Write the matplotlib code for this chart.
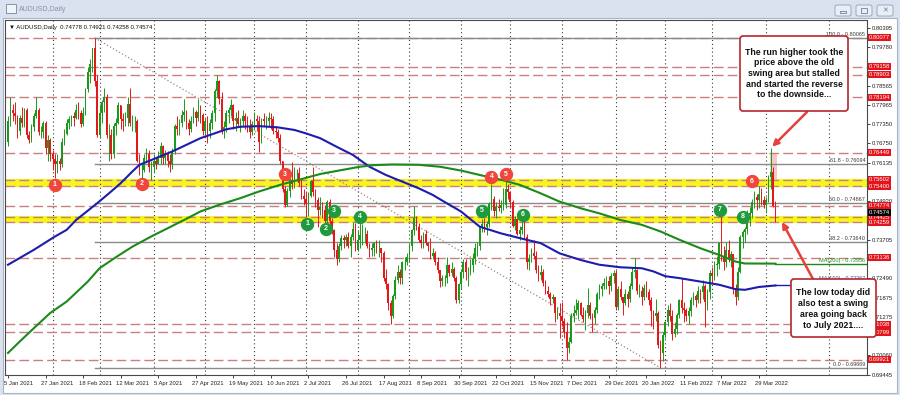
import matplotlib
matplotlib.use('Agg')

import matplotlib.pyplot as plt
from matplotlib.patches import Rectangle, FancyBboxPatch
from matplotlib.transforms import blended_transform_factory, ScaledTranslation
import pandas as pd

plt.rcParams['font.family'] = ['Liberation Sans', 'DejaVu Sans']

# ---------------- data ----------------
# daily bars, prices in pips (7745 -> 0.7745); open = previous close
dates = pd.bdate_range('2021-01-05', '2022-04-07')
first_open = 7680

closes = [
    7745, 7780, 7770, 7760, 7715, 7755, 7740, 7780, 7700, 7685, 7725, 7760, 7780, 7710, 7710, 7740, 7660, 7685, 7640,  # Jan 21
    7625, 7610, 7620, 7610, 7680, 7705, 7740, 7750, 7760, 7755, 7780, 7770, 7735, 7770, 7845, 7900, 7925, 7975, 7870, 7700,  # Feb
    7770, 7805, 7820, 7700, 7700, 7640, 7730, 7740, 7795, 7750, 7745, 7755, 7800, 7740, 7745, 7745, 7620, 7590, 7590, 7630, 7640, 7600, 7600,  # Mar
    7620, 7610, 7630, 7665, 7630, 7640, 7620, 7610, 7650, 7730, 7720, 7740, 7765, 7775, 7740, 7720, 7745, 7775, 7755, 7775, 7765, 7715,  # Apr
    7745, 7715, 7740, 7770, 7840, 7870, 7815, 7715, 7725, 7770, 7780, 7795, 7745, 7755, 7735, 7745, 7760, 7745, 7730, 7710, 7735,  # May
    7750, 7745, 7680, 7750, 7745, 7745, 7755, 7750, 7715, 7710, 7690, 7620, 7530, 7480, 7525, 7560, 7545, 7580, 7580, 7550, 7510, 7500,  # Jun
    7485, 7510, 7555, 7520, 7495, 7465, 7475, 7465, 7430, 7490, 7430, 7400, 7340, 7310, 7350, 7375, 7370, 7380, 7350, 7380, 7405, 7340,  # Jul
    7370, 7385, 7390, 7390, 7350, 7340, 7345, 7360, 7345, 7345, 7330, 7250, 7230, 7170, 7130, 7195, 7245, 7270, 7250, 7300, 7300, 7315,  # Aug
    7350, 7400, 7440, 7410, 7370, 7360, 7390, 7360, 7350, 7320, 7330, 7300, 7275, 7240, 7250, 7250, 7290, 7265, 7280, 7250, 7180, 7230,  # Sep
    7270, 7300, 7270, 7270, 7290, 7310, 7345, 7350, 7410, 7420, 7410, 7420, 7485, 7500, 7460, 7475, 7470, 7480, 7480, 7530, 7520,  # Oct
    7490, 7415, 7435, 7390, 7400, 7410, 7380, 7300, 7310, 7330, 7320, 7275, 7260, 7270, 7235, 7210, 7200, 7185, 7190, 7140, 7140, 7130,  # Nov
    7115, 7080, 7030, 7050, 7130, 7140, 7150, 7170, 7135, 7120, 7140, 7165, 7130, 7125, 7150, 7200, 7215, 7225, 7235, 7240, 7225, 7255, 7265,  # Dec
    7160, 7215, 7190, 7170, 7200, 7185, 7225, 7270, 7275, 7210, 7210, 7190, 7220, 7205, 7180, 7145, 7130, 7140, 7040, 7015, 7070,  # Jan 22
    7110, 7150, 7130, 7075, 7090, 7135, 7180, 7155, 7150, 7130, 7145, 7180, 7195, 7180, 7210, 7205, 7225, 7175, 7205, 7265,  # Feb
    7255, 7290, 7295, 7360, 7315, 7300, 7340, 7310, 7325, 7220, 7190, 7270, 7380, 7395, 7405, 7450, 7455, 7490, 7505, 7495, 7515, 7495, 7480,  # Mar
    7495, 7570, 7585, 7478, 7457.4,  # Apr
]
highs = [
    7760, 7820, 7800, 7805, 7765, 7765, 7790, 7785, 7785, 7715, 7735, 7770, 7820, 7785, 7730, 7745, 7745, 7700, 7690,
    7655, 7640, 7640, 7630, 7690, 7720, 7750, 7760, 7765, 7775, 7800, 7805, 7780, 7790, 7850, 7915, 7940, 7975, 8007, 7890,
    7800, 7810, 7850, 7830, 7735, 7720, 7740, 7755, 7805, 7790, 7770, 7775, 7820, 7850, 7765, 7760, 7750, 7640, 7610, 7640, 7660, 7655, 7620,
    7640, 7630, 7650, 7680, 7670, 7655, 7650, 7640, 7660, 7735, 7760, 7750, 7780, 7815, 7780, 7750, 7760, 7790, 7780, 7815, 7795, 7770,
    7755, 7760, 7750, 7780, 7845, 7891, 7875, 7835, 7745, 7780, 7790, 7815, 7800, 7775, 7780, 7755, 7780, 7770, 7760, 7750, 7745,
    7775, 7765, 7760, 7755, 7770, 7760, 7775, 7770, 7760, 7730, 7720, 7705, 7620, 7540, 7535, 7575, 7615, 7600, 7595, 7600, 7565, 7530,
    7520, 7520, 7560, 7599, 7530, 7505, 7505, 7490, 7480, 7495, 7500, 7440, 7405, 7360, 7360, 7385, 7385, 7390, 7395, 7390, 7427, 7425,
    7400, 7425, 7420, 7410, 7400, 7360, 7360, 7365, 7370, 7370, 7345, 7335, 7280, 7235, 7180, 7200, 7255, 7290, 7280, 7305, 7315, 7330,
    7360, 7405, 7478, 7445, 7425, 7385, 7395, 7400, 7365, 7375, 7345, 7335, 7315, 7275, 7260, 7260, 7315, 7295, 7300, 7285, 7255, 7235,
    7275, 7310, 7310, 7285, 7310, 7330, 7360, 7365, 7415, 7435, 7440, 7430, 7490, 7545, 7510, 7490, 7500, 7495, 7535, 7556, 7545,
    7525, 7495, 7445, 7440, 7415, 7435, 7435, 7390, 7325, 7345, 7370, 7335, 7290, 7290, 7280, 7245, 7225, 7205, 7200, 7190, 7160, 7170,
    7175, 7125, 7110, 7065, 7140, 7165, 7185, 7180, 7175, 7160, 7150, 7220, 7175, 7140, 7160, 7205, 7230, 7235, 7250, 7255, 7255, 7265, 7277,
    7275, 7225, 7240, 7190, 7215, 7210, 7235, 7285, 7314, 7280, 7230, 7225, 7230, 7240, 7215, 7190, 7150, 7185, 7145, 7055, 7080,
    7115, 7165, 7170, 7150, 7110, 7140, 7185, 7250, 7175, 7155, 7160, 7190, 7205, 7200, 7225, 7215, 7245, 7230, 7215, 7275,
    7285, 7305, 7320, 7365, 7441, 7350, 7365, 7370, 7335, 7325, 7230, 7285, 7385, 7400, 7410, 7465, 7475, 7500, 7525, 7515, 7540, 7535, 7510,
    7505, 7575, 7661, 7600, 7492.1,
]
lows = [
    7665, 7730, 7745, 7735, 7690, 7700, 7725, 7725, 7690, 7675, 7680, 7715, 7755, 7700, 7690, 7690, 7640, 7620, 7620,
    7590, 7564, 7580, 7590, 7600, 7670, 7700, 7720, 7730, 7730, 7750, 7750, 7725, 7730, 7765, 7835, 7865, 7900, 7855, 7695,
    7690, 7740, 7775, 7690, 7620, 7625, 7630, 7700, 7735, 7720, 7715, 7730, 7730, 7730, 7715, 7710, 7615, 7575, 7532, 7585, 7615, 7585, 7560,
    7585, 7595, 7610, 7610, 7610, 7610, 7600, 7585, 7595, 7640, 7700, 7700, 7725, 7745, 7720, 7700, 7710, 7740, 7730, 7745, 7740, 7700,
    7700, 7675, 7690, 7720, 7745, 7820, 7800, 7705, 7690, 7710, 7740, 7760, 7720, 7715, 7725, 7710, 7730, 7720, 7710, 7690, 7700,
    7720, 7715, 7647, 7675, 7730, 7720, 7730, 7720, 7705, 7690, 7680, 7610, 7520, 7475, 7478, 7505, 7530, 7535, 7555, 7540, 7500, 7480,
    7444, 7445, 7505, 7510, 7475, 7410, 7450, 7440, 7420, 7410, 7420, 7390, 7315, 7290, 7300, 7340, 7345, 7350, 7345, 7315, 7370, 7335,
    7335, 7345, 7355, 7360, 7345, 7315, 7320, 7320, 7330, 7315, 7300, 7240, 7215, 7150, 7106, 7125, 7185, 7235, 7230, 7230, 7275, 7290,
    7300, 7335, 7385, 7400, 7365, 7345, 7345, 7355, 7335, 7310, 7310, 7290, 7265, 7222, 7225, 7225, 7235, 7255, 7255, 7240, 7170, 7170,
    7215, 7250, 7245, 7225, 7260, 7270, 7295, 7320, 7340, 7395, 7395, 7385, 7410, 7465, 7445, 7440, 7460, 7455, 7465, 7470, 7500,
    7470, 7410, 7400, 7385, 7370, 7390, 7375, 7280, 7275, 7300, 7310, 7265, 7240, 7245, 7225, 7200, 7190, 7165, 7170, 7110, 7120, 7060,
    7100, 7060, 6993, 7015, 7045, 7110, 7135, 7120, 7130, 7110, 7085, 7125, 7120, 7080, 7105, 7140, 7185, 7195, 7215, 7215, 7200, 7210, 7235,
    7150, 7150, 7180, 7135, 7165, 7160, 7175, 7215, 7250, 7200, 7190, 7165, 7180, 7190, 7165, 7100, 7090, 7115, 7030, 6967, 6990,
    7060, 7100, 7115, 7055, 7065, 7075, 7125, 7140, 7110, 7115, 7105, 7130, 7165, 7160, 7170, 7170, 7185, 7095, 7150, 7185,
    7235, 7245, 7255, 7280, 7305, 7275, 7285, 7300, 7285, 7200, 7165, 7180, 7265, 7345, 7365, 7390, 7415, 7440, 7470, 7465, 7470, 7480, 7470,
    7455, 7490, 7530, 7475, 7425.8,
]

# moving averages (bar index, price)
ma100_bars = [0, 11, 20, 25, 29, 38, 43, 48, 53, 56, 63, 70, 76, 82, 88, 93, 99, 107, 115, 122, 127, 133, 140,
              147, 154, 161, 168, 175, 181, 186, 193, 201, 210, 218, 227, 235, 244, 252, 261, 270, 275, 280,
              286, 295, 303, 310, 314, 320, 327]
ma100_vals = [0.7292, 0.7339, 0.7381, 0.7402, 0.7433, 0.7486, 0.7517, 0.7549, 0.7586, 0.7607, 0.7628, 0.7649,
              0.7670, 0.7691, 0.7706, 0.7719, 0.7727, 0.7729, 0.7725, 0.7717, 0.7706, 0.7691, 0.7664, 0.7638,
              0.7601, 0.7575, 0.7554, 0.7533, 0.7512, 0.7490, 0.7460, 0.7412, 0.7391, 0.7376, 0.7360, 0.7328,
              0.7307, 0.7292, 0.7284, 0.7281, 0.7271, 0.7256, 0.7250, 0.7239, 0.7229, 0.7215, 0.7213, 0.7222, 0.72267]
ma200_bars = [0, 5, 11, 18, 25, 34, 39, 46, 53, 61, 68, 75, 82, 90, 99, 107, 116, 124, 133, 141, 150, 156, 164,
              175, 184, 193, 201, 210, 218, 227, 235, 244, 252, 261, 270, 278, 286, 295, 303, 310, 314, 327]
ma200_vals = [0.7014, 0.7050, 0.7092, 0.7140, 0.7176, 0.7239, 0.7281, 0.7316, 0.7349, 0.7381, 0.7407, 0.7433,
              0.7460, 0.7481, 0.7502, 0.7523, 0.7544, 0.7560, 0.7578, 0.7589, 0.7601, 0.7606, 0.7608, 0.7607,
              0.7601, 0.7589, 0.7575, 0.7560, 0.7544, 0.7517, 0.7491, 0.7470, 0.7454, 0.7433, 0.7418, 0.7397,
              0.7371, 0.7344, 0.7323, 0.7302, 0.7296, 0.72956]

red_levels = [0.80077, 0.79158, 0.78903, 0.78194, 0.76449, 0.75602, 0.75400, 0.74774,
              0.74425, 0.74259, 0.73136, 0.71038, 0.70799, 0.69921]
yellow_zones = [(0.7537, 0.7563), (0.7423, 0.7445)]
fib_start_bar = 37
fib_levels = [('100.0', 0.80065), ('61.8', 0.76094), ('50.0', 0.74867), ('38.2', 0.73640), ('0.0', 0.69669)]
trend_bars = [37, 278]
trend_prices = [0.80070, 0.69670]
# scale labels that are not hidden behind the coloured price boxes
price_ticks = [0.80395, 0.79780, 0.78565, 0.77965, 0.77350, 0.76750, 0.76135, 0.74920,
               0.73705, 0.72490, 0.71875, 0.71275, 0.70060, 0.69445]
last_price = 0.74574

red_marks = [('1', 20, 0.7544), ('2', 57, 0.7547), ('3', 118, 0.7578), ('4', 206, 0.7569),
             ('5', 212, 0.7578), ('6', 317, 0.7556)]
green_marks = [('1', 127.4, 0.7421), ('2', 135.5, 0.7405), ('3', 139, 0.7462), ('4', 150, 0.7443),
               ('5', 202, 0.7462), ('6', 219.4, 0.7449), ('7', 303.4, 0.7465), ('8', 313, 0.7443)]

note_top = "The run higher took the\nprice above the old\nswing area but stalled\nand started the reverse\nto the downside..."
note_low = "The low today did\nalso test a swing\narea going back\nto July 2021...."

# ---------------- figure ----------------
W, H = 900, 395
fig = plt.figure(figsize=(W / 100, H / 100), dpi=100)
fig.patch.set_facecolor('#d9e2ee')

bg = fig.add_axes([0, 0, 1, 1], zorder=0)
bg.set_xlim(0, W); bg.set_ylim(H, 0); bg.axis('off')
bg.add_patch(Rectangle((3, 18), 894, 375, fc='white', ec='#a8b5c5', lw=0.8))
bg.add_patch(Rectangle((6, 4), 10, 9, fc='#f1f5fa', ec='#7f95af', lw=0.7))
bg.text(19, 9.5, 'AUDUSD,Daily', fontsize=5, color='#8795a8', va='center')
for x0 in (835, 856, 877):
    bg.add_patch(FancyBboxPatch((x0, 5), 16, 11, boxstyle='round,pad=0,rounding_size=2',
                                fc='#e8eef6', ec='#9ca9b9', lw=0.7))
bg.add_patch(Rectangle((840, 11), 6, 2, fc='none', ec='#6f7f94', lw=0.6))
bg.add_patch(Rectangle((861, 8), 6, 5, fc='none', ec='#6f7f94', lw=0.6))
bg.text(885, 10.5, '\u2715', fontsize=5, color='#6f7f94', ha='center', va='center', family='DejaVu Sans')

ax = fig.add_axes([5 / W, 1 - 375 / H, 862 / W, 355 / H], zorder=1)
ax.set_facecolor('white')
ax.set_xlim(-1.28, 366.0)
ax.set_ylim(0.69445, 0.80635)

n = len(dates)
c = [v / 10000 for v in closes]
o = [first_open / 10000] + c[:-1]
h = [max(v / 10000, oo, cc) for v, oo, cc in zip(highs, o, c)]
l = [min(v / 10000, oo, cc) for v, oo, cc in zip(lows, o, c)]
x = list(range(n))

# background objects
for lo, hi in yellow_zones:
    ax.axhspan(lo, hi, color='#f6f61c', lw=0, zorder=1)
ax.add_patch(Rectangle((324.6, 0.7560), 3.0, 0.76449 - 0.7560, fc='#f3b9b9', ec='none', alpha=0.8, zorder=1.2))

# monthly dotted grid
grid_bars = [i for i in range(1, n) if dates[i].month != dates[i - 1].month] + [350]
for gb in grid_bars:
    ax.axvline(gb, color='#3a3a3a', lw=0.8, ls=(0, (1, 2.5)), zorder=1.5)

for lv in red_levels:
    ax.axhline(lv, color='#c98080', lw=1.0, ls=(0, (7, 3)), zorder=2)

for name, lv in fib_levels:
    ax.plot([fib_start_bar, 366], [lv, lv], color='#8a8a8a', lw=1.0, zorder=2.1)
    ax.text(365.3, lv + 0.0003, f'{name} - {lv:.5f}', fontsize=4, color='#3c3c3c',
            ha='right', va='bottom', zorder=2.2)

ax.plot(trend_bars, trend_prices, color='#a08585', lw=0.9, ls=(0, (1, 1.8)), zorder=2.2)

# candles
up = [cc >= oo for oo, cc in zip(o, c)]
cols = ['#1a9a1a' if u else '#e3181b' for u in up]
ax.vlines(x, l, h, colors=cols, lw=0.7, zorder=3)
ax.bar(x, [max(abs(cc - oo), 0.00005) for oo, cc in zip(o, c)], bottom=[min(oo, cc) for oo, cc in zip(o, c)],
       width=0.7, color=cols, lw=0, zorder=3.1)

# moving averages
ax.plot(ma100_bars, ma100_vals, color='#1c1cae', lw=1.5, zorder=4)
ax.plot(ma200_bars, ma200_vals, color='#1b8a1b', lw=1.5, zorder=4)
ax.plot([ma200_bars[-1], 366], [ma200_vals[-1]] * 2, color='#1b8a1b', lw=1.0, zorder=4)
ax.plot([ma100_bars[-1], 366], [ma100_vals[-1]] * 2, color='#1c1cae', lw=1.0, zorder=4)
ax.text(365.3, ma200_vals[-1] + 0.0003, 'MA(200) - 0.72956', fontsize=4, color='#1b8a1b',
        ha='right', va='bottom', zorder=4.2)
ax.text(365.3, ma100_vals[-1] + 0.0014, 'MA(100) - 0.72267', fontsize=4, color='#4a4aa0',
        ha='right', va='bottom', zorder=4.2)

# numbered swing markers
for marks, col in ((red_marks, '#f0463b'), (green_marks, '#1f9a3c')):
    for lab, bx, py in marks:
        ax.plot(bx, py, 'o', ms=8.6, mfc=col, mec=col, zorder=6)
        ax.text(bx, py, lab, color='white', fontsize=5, fontweight='bold', ha='center', va='center', zorder=6.5)

# axes styling
for sp in ax.spines.values():
    sp.set_color('#4a4a4a'); sp.set_linewidth(0.8)
ax.yaxis.tick_right()
ax.set_yticks(price_ticks)
ax.set_yticklabels([f'{v:.5f}' for v in price_ticks])
ax.tick_params(axis='y', length=2, width=0.6, pad=1.5, labelsize=4.2, colors='#222222')

label_bars = list(range(0, n, 16))
ax.set_xticks(label_bars)
ax.set_xticklabels([f"{dates[i].day} {dates[i].strftime('%b %Y')}" for i in label_bars], ha='left')
ax.tick_params(axis='x', length=2, width=0.6, pad=2.5, labelsize=4.2, colors='#222222')
for lbl in ax.get_xticklabels():
    lbl.set_transform(lbl.get_transform() + ScaledTranslation(-3 / 72, 0, fig.dpi_scale_trans))

# price boxes on the right scale
bt = blended_transform_factory(ax.transAxes, ax.transData)
for lv in red_levels:
    ax.text(1.0025, lv, f'{lv:.5f}', transform=bt, fontsize=4.2, color='white', ha='left', va='center',
            bbox=dict(boxstyle='square,pad=0.18', fc='#e3141c', ec='none'), clip_on=False, zorder=8)
ax.text(1.0025, last_price, f'{last_price:.5f}', transform=bt, fontsize=4.2, color='white', ha='left',
        va='center', bbox=dict(boxstyle='square,pad=0.18', fc='black', ec='none'), clip_on=False, zorder=8)

# header line inside the chart
ax.text(0.005, 0.985, '\u25BC AUDUSD,Daily  0.74778 0.74921 0.74258 0.74574', transform=ax.transAxes,
        fontsize=4.3, color='#111111', ha='left', va='top', zorder=9)

# arrows to the chart
arrow = dict(arrowstyle='-|>', color='#e8403a', lw=1.8, mutation_scale=9, shrinkA=0, shrinkB=0)
ax.annotate('', xy=(325.6, 0.7664), xycoords='data', xytext=(807, H - 112), textcoords='figure pixels',
            arrowprops=arrow, annotation_clip=False, zorder=9)
ax.annotate('', xy=(329.8, 0.7427), xycoords='data', xytext=(813, H - 279), textcoords='figure pixels',
            arrowprops=arrow, annotation_clip=False, zorder=9)

# note boxes
ov = fig.add_axes([0, 0, 1, 1], zorder=2)
ov.set_xlim(0, W); ov.set_ylim(H, 0); ov.axis('off')
ov.add_patch(FancyBboxPatch((740, 36), 108, 75, boxstyle='round,pad=0,rounding_size=3',
                            fc='white', ec='#b3262c', lw=1.2))
ov.text(794, 73.5, note_top, fontsize=6.3, fontweight='bold', ha='center', va='center',
        multialignment='center', linespacing=1.22, color='#111111')
ov.add_patch(FancyBboxPatch((791, 279), 85, 58, boxstyle='round,pad=0,rounding_size=3',
                            fc='white', ec='#b3262c', lw=1.2))
ov.text(833.5, 309, note_low, fontsize=6.3, fontweight='bold', ha='center', va='center',
        multialignment='center', linespacing=1.28, color='#111111')

fig.savefig('out.png', dpi=100, facecolor=fig.get_facecolor())
plt.close(fig)
